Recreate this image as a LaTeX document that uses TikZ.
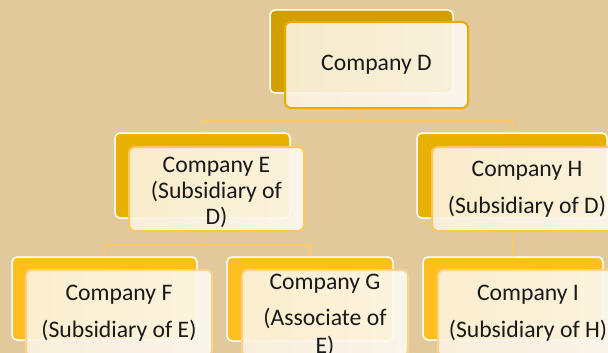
\documentclass[tikz,border=0pt]{standalone}
\usepackage{fontspec}
\setmainfont{Carlito}
\definecolor{bgtan}{RGB}{226,201,155}
\definecolor{topgold}{RGB}{209,160,0}
\definecolor{midgold}{RGB}{232,176,0}
\definecolor{lowgold}{RGB}{255,192,30}
\definecolor{creamL}{RGB}{251,243,226}
\definecolor{creamR}{RGB}{252,250,244}
\definecolor{edgeTop}{RGB}{232,172,0}
\definecolor{edgeMid}{RGB}{255,196,90}
\definecolor{edgeLow}{RGB}{255,208,140}
\definecolor{linkline}{RGB}{255,200,100}
\tikzset{
  backbox/.style={rectangle, rounded corners=5pt, draw=white, line width=1.5pt},
  frontbox/.style={rectangle, rounded corners=6pt, line width=2pt,
    left color=creamL, right color=creamR, fill opacity=0.9, text opacity=1,
    align=center, text=black!90, font=\fontsize{23.7}{26}\selectfont},
  link/.style={draw=linkline, line width=1.8pt}
}
\begin{document}
\begin{tikzpicture}[x=1pt,y=-1pt]
\useasboundingbox (0,0) rectangle (608,353);
\fill[bgtan] (0,0) rectangle (608,353);

% back (offset) plates
\node[backbox, fill=topgold, minimum width=183pt, minimum height=83pt] (Dback) at (361.5,51.5) {};
\node[backbox, fill=midgold, minimum width=175pt, minimum height=85pt] (Eback) at (202.5,175.5) {};
\node[backbox, fill=midgold, minimum width=190pt, minimum height=85pt] (Hback) at (512,175.5) {};
\node[backbox, fill=lowgold, minimum width=185pt, minimum height=83pt] (Fback) at (104.5,298.5) {};
\node[backbox, fill=lowgold, minimum width=166pt, minimum height=84pt] (Gback) at (310,299) {};
\node[backbox, fill=lowgold, minimum width=180pt, minimum height=83pt] (Iback) at (513,298.5) {};

% connectors
\draw[link] (Dback.south) -- ++(0,27) coordinate (dbar) -| (Eback.north);
\draw[link] (dbar) -| (Hback.north);
\draw[link] (Eback.south) -- ++(0,26) coordinate (ebar) -| (Fback.north);
\draw[link] (ebar) -| (Gback.north);
\draw[link] (Hback.south) -- (Iback.north);

% front cards with the company names
\node[frontbox, draw=edgeTop, minimum width=183pt, minimum height=86pt] (Dfront) at (376.5,65) {Company D};
\node[frontbox, draw=edgeMid, minimum width=175pt, minimum height=84pt] (Efront) at (216.5,189) {};
\node[align=center, text=black!90, font=\fontsize{23.7}{26}\selectfont] (Etext) at (216.5,192) {Company E\\(Subsidiary of\\D)};
\node[frontbox, draw=edgeMid, minimum width=190pt, minimum height=84pt] (Hfront) at (527,189) {Company H\\[11pt](Subsidiary of D)};
\node[frontbox, draw=edgeLow, minimum width=186pt, minimum height=86pt] (Ffront) at (119,313) {Company F\\[11pt](Subsidiary of E)};
\node[frontbox, draw=edgeLow, minimum width=166pt, minimum height=86pt] (Gfront) at (325,313) {};
\node[align=center, text=black!90, font=\fontsize{23.7}{26}\selectfont] (Gtext) at (325,315) {Company G\\[10pt](Associate of\\[2pt]E)};
\node[frontbox, draw=edgeLow, minimum width=180pt, minimum height=86pt] (Ifront) at (528,313) {Company I\\[11pt](Subsidiary of H)};
\end{tikzpicture}
\end{document}
